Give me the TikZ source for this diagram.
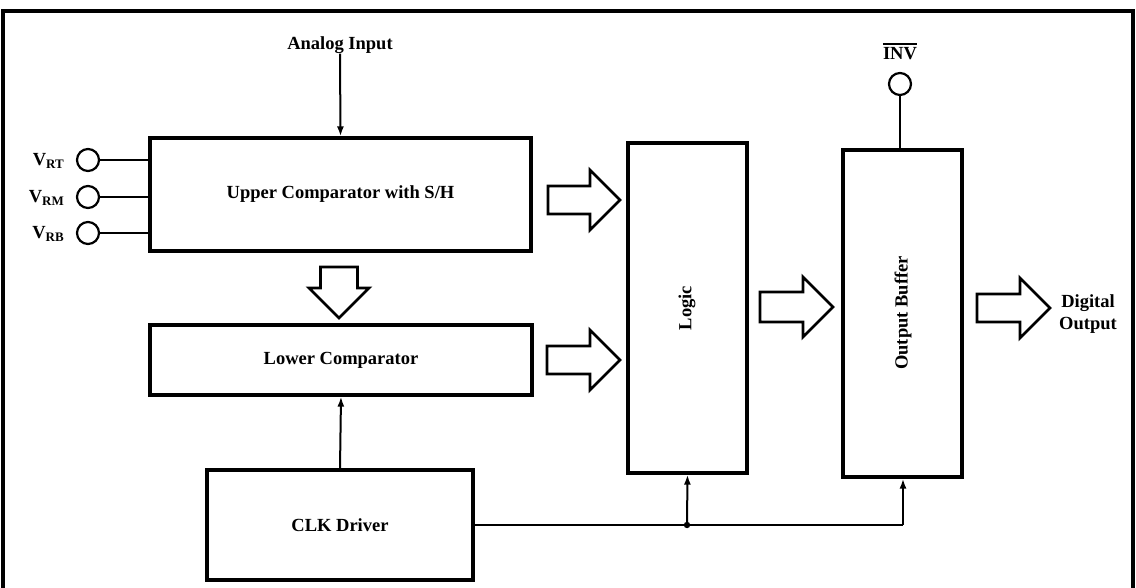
\documentclass[tikz,border=0pt]{standalone}
\usepackage{fontspec}
\setmainfont{Liberation Serif}
\usetikzlibrary{arrows.meta}
\begin{document}
\begin{tikzpicture}[x=1pt,y=-1pt,
  blk/.style={draw,line width=3.2pt,rectangle,inner sep=0pt,
    font=\fontsize{18.5}{22}\selectfont\bfseries},
  lbl/.style={inner sep=0pt,font=\fontsize{18.5}{22}\selectfont\bfseries},
  term/.style={draw,circle,line width=2.2pt,minimum size=22pt,inner sep=0pt},
  wire/.style={line width=2pt},
  sig/.style={line width=2pt,-{Latex[length=10pt,width=7pt]}},
  bar/.style={draw,line width=2.8pt,line join=miter},
  pics/barrow/.style n args={4}{code={
    \draw[bar] (0,-#3)--(#1-#2,-#3)--(#1-#2,-#4)--(#1,0)--(#1-#2,#4)--(#1-#2,#3)--(0,#3)--cycle;}}
]
\useasboundingbox (0,0) rectangle (1136,587);
% frame
\draw[line width=3.2pt] (3,590) -- (3,11) -- (1133,11) -- (1133,590);

% blocks
\node[blk,minimum width=381pt,minimum height=113pt] (upper) at (340.5,194.5) {Upper Comparator with S/H};
\node[blk,minimum width=382pt,minimum height=70pt] (lower) at (341,360) {Lower Comparator};
\node[blk,minimum width=266pt,minimum height=110pt] (clk) at (340,525) {CLK Driver};
\node[blk,minimum width=119pt,minimum height=330pt] (logic) at (687.5,308) {};
\node[lbl,rotate=90] (logictxt) at (687,308) {Logic};
\node[blk,minimum width=119pt,minimum height=327pt] (ob) at (902.5,313.5) {};
\node[lbl,rotate=90] (obtxt) at (903,313) {Output Buffer};

% analog input
\node[lbl] (ain) at (340,45) {Analog Input};
\draw[sig] (ain.south) -- (upper.north);

% reference terminals
\node[term] (vrt) at (88,160) {};
\node[term] (vrm) at (88,197) {};
\node[term] (vrb) at (88,233) {};
\node[lbl,anchor=east] (lvrt) at (64,161) {V\raisebox{-0.3ex}{\fontsize{13}{13}\selectfont RT}};
\node[lbl,anchor=east] (lvrm) at (64,198) {V\raisebox{-0.3ex}{\fontsize{13}{13}\selectfont RM}};
\node[lbl,anchor=east] (lvrb) at (64,234) {V\raisebox{-0.3ex}{\fontsize{13}{13}\selectfont RB}};
\draw[wire] (vrt.east) -- (vrt.east -| upper.west);
\draw[wire] (vrm.east) -- (vrm.east -| upper.west);
\draw[wire] (vrb.east) -- (vrb.east -| upper.west);

% INV
\node[term] (inv) at (900,84) {};
\node[lbl] (invl) at (900,54) {INV};
\draw[line width=1.8pt] ([yshift=4pt]invl.north west) -- ([yshift=4pt]invl.north east);
\draw[wire] (inv.south) -- (inv.south |- ob.north);

% clock distribution
\coordinate (j1) at (687,525);
\coordinate (j2) at (903,525);
\draw[wire] (clk.east) -- (j2);
\fill (j1) circle (3.2pt);
\draw[sig] (j1) -- (logic.south);
\draw[sig] (j2) -- (j2 |- ob.south);
\draw[sig] (clk.north) -- (lower.south);

% block arrows
\pic at (339,267) [rotate=-90] {barrow={51}{30}{18.5}{30}};
\pic at (548,200) {barrow={72}{30}{14}{30}};
\pic at (547,360) {barrow={73}{30}{14}{30}};
\pic at (760,307) {barrow={73}{30}{15}{30}};
\pic at (977,308) {barrow={73}{30}{14}{30}};

\node[lbl,align=center] (dout) at (1088,314) {Digital\\Output};
\end{tikzpicture}
\end{document}
